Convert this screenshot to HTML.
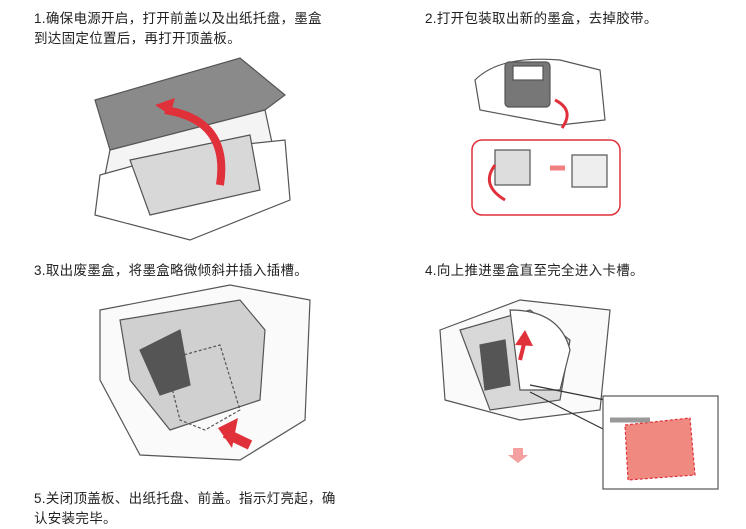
<!DOCTYPE html>
<html><head><meta charset="utf-8"><style>
body{margin:0;width:746px;height:529px;background:#fff;position:relative;overflow:hidden;font-family:"Liberation Sans","Noto Sans CJK SC",sans-serif;color:#222}
.t{position:absolute;font-size:13.5px;line-height:20px;letter-spacing:0.3px}
svg{position:absolute;left:0;top:0}
</style></head><body>
<div class="t" style="left:34px;top:9px">1.确保电源开启，打开前盖以及出纸托盘，墨盒<br>到达固定位置后，再打开顶盖板。</div>
<div class="t" style="left:425px;top:9px">2.打开包装取出新的墨盒，去掉胶带。</div>
<div class="t" style="left:34px;top:261px">3.取出废墨盒，将墨盒略微倾斜并插入插槽。</div>
<div class="t" style="left:425px;top:261px">4.向上推进墨盒直至完全进入卡槽。</div>
<div class="t" style="left:34px;top:489px">5.关闭顶盖板、出纸托盘、前盖。指示灯亮起，确<br>认安装完毕。</div>
<svg width="746" height="529" viewBox="0 0 746 529" fill="none" stroke="#555" stroke-width="1.2">
<path d="M95 100 L240 58 L285 95 L265 110 L110 150 Z" fill="#8a8a8a"/>
<path d="M110 150 L265 110 L280 180 L180 230 L100 200 Z" fill="#f4f4f4"/>
<path d="M100 175 L190 150 L285 140 L290 200 L190 240 L95 215 Z" fill="#fff"/>
<path d="M130 160 L250 135 L260 190 L150 215 Z" fill="#d8d8d8"/>
<path d="M165 110 Q230 120 220 185" stroke="#e0303a" stroke-width="8"/>
<path d="M155 105 L175 98 L170 115 Z" fill="#e0303a" stroke="none"/>
<path d="M475 80 Q500 55 560 60 L600 70 L605 120 L560 125 L480 110 Z" fill="#fff"/>
<rect x="505" y="62" width="45" height="45" rx="4" fill="#777"/>
<rect x="513" y="66" width="30" height="14" fill="#fff"/>
<path d="M555 100 Q575 110 562 128" stroke="#e0303a" stroke-width="3"/>
<rect x="472" y="140" width="148" height="75" rx="10" stroke="#e0303a" stroke-width="1.5"/>
<rect x="495" y="150" width="35" height="35" fill="#ddd"/>
<path d="M495 165 Q480 185 505 200" stroke="#e0303a" stroke-width="3"/>
<path d="M550 168 L565 168" stroke="#f08080" stroke-width="5"/>
<rect x="572" y="155" width="35" height="32" fill="#eee"/>
<path d="M100 310 L230 285 L310 300 L305 420 L240 460 L140 455 L100 380 Z" fill="#fafafa"/>
<path d="M120 320 L240 300 L265 330 L260 400 L170 430 L130 380 Z" fill="#d0d0d0"/>
<path d="M140 350 L180 330 L190 385 L160 395 Z" fill="#555"/>
<path d="M165 360 L220 345 L240 410 L205 430 L180 420 Z" stroke-dasharray="3,2"/>
<path d="M250 445 L225 433" stroke="#e0303a" stroke-width="10"/>
<path d="M218 428 L238 418 L232 448 Z" fill="#e0303a" stroke="none"/>
<path d="M440 330 L520 300 L610 310 L600 410 L520 420 L445 400 Z" fill="#fafafa"/>
<path d="M460 330 L530 310 L570 340 L560 400 L490 410 Z" fill="#d8d8d8"/>
<path d="M480 345 L505 340 L510 385 L485 390 Z" fill="#555"/>
<path d="M510 310 Q560 310 570 350 L560 390 L520 390 Z" fill="#fff"/>
<path d="M520 360 L525 340" stroke="#e0303a" stroke-width="4"/>
<path d="M515 345 L525 330 L533 346 Z" fill="#e0303a" stroke="none"/>
<path d="M530 385 L605 400 M530 392 L605 430" stroke="#333"/>
<rect x="603" y="396" width="115" height="93" fill="#fff"/>
<path d="M625 425 L690 418 L695 475 L628 480 Z" fill="#f08a80" stroke="#e0303a" stroke-dasharray="3,2"/>
<path d="M610 420 L650 420" stroke="#999" stroke-width="5"/>
<path d="M513 448 L523 448 L523 455 L528 455 L518 463 L508 455 L513 455 Z" fill="#f4a0a0" stroke="none"/>
</svg>
</body></html>
